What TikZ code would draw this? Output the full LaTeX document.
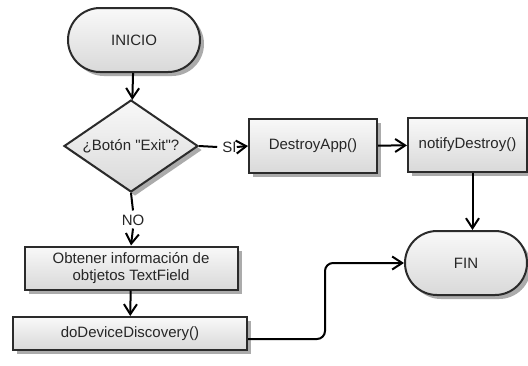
\documentclass[tikz,border=0pt]{standalone}
\usepackage{fontspec}
\setmainfont{Liberation Sans}[Ligatures=TeXOff]
\usetikzlibrary{shapes.geometric,shapes.misc,shadows,arrows.meta}
\definecolor{edge}{HTML}{2B2B2B}
\definecolor{ink}{HTML}{262626}
\tikzset{
  boxfill/.style={top color=gray!5, bottom color=gray!30, draw=edge, line width=2pt,
    drop shadow={shadow xshift=4pt, shadow yshift=-4pt, fill=black!55, opacity=0.6},
    text=ink, font=\fontsize{15}{17.5}\selectfont, align=center, inner sep=0pt},
  terminal/.style={boxfill, rounded rectangle, minimum height=64pt},
  procbox/.style={boxfill, rectangle},
  decision/.style={boxfill, diamond, aspect=1.46},
  lbl/.style={text=ink, font=\fontsize{15}{17.5}\selectfont, inner sep=0pt},
  flow/.style={draw=black, line width=2pt, -{Straight Barb[length=10pt,width=13pt,line width=2pt]}},
  plain/.style={draw=black, line width=2pt},
}
\begin{document}
\begin{tikzpicture}[x=1pt, y=-1pt]
  \useasboundingbox (0,0) rectangle (528,365);
  \fill[white] (0,0) rectangle (528,365);

  % shapes
  \node[terminal, minimum width=132pt] (inicio) at (134,40) {INICIO};
  \node[decision, minimum width=134pt, minimum height=92pt] (dec) at (131,146) {¿Botón "Exit"?};
  \node[procbox, minimum width=128pt, minimum height=54pt] (destroy) at (313,146) {DestroyApp()};
  \node[procbox, minimum width=119pt, minimum height=54pt] (notify) at (467.5,145) {notifyDestroy()};
  \node[terminal, minimum width=122pt] (fin) at (466,263) {FIN};
  \node[procbox, minimum width=213pt, minimum height=43pt] (obt) at (131,268)
    {Obtener información de\\obtjetos TextField};
  \node[procbox, minimum width=234pt, minimum height=33pt] (dodev) at (130,333.5) {doDeviceDiscovery()};

  % branch labels
  \node[lbl] (si) at (229.5,147) {SI};
  \node[lbl] (no) at (133,220) {NO};

  % connectors
  \draw[flow] (inicio) -- (dec);
  \draw[plain] (dec.east) -- ([xshift=-5pt]si.west);
  \draw[flow] (si.east) -- (destroy.west);
  \draw[plain] (dec.south) -- ([yshift=4pt]no.north);
  \draw[flow] ([yshift=-3pt]no.south) -- (obt.north);
  \draw[flow] (destroy) -- (notify);
  \draw[flow] ([xshift=5pt]notify.south) -- ([xshift=5pt]notify.south |- fin.north);
  \draw[flow] (obt) -- (dodev);
  \draw[flow, rounded corners=8pt] ([yshift=-5.5pt]dodev.east) -| (325,300) |- (fin.west);
\end{tikzpicture}
\end{document}
